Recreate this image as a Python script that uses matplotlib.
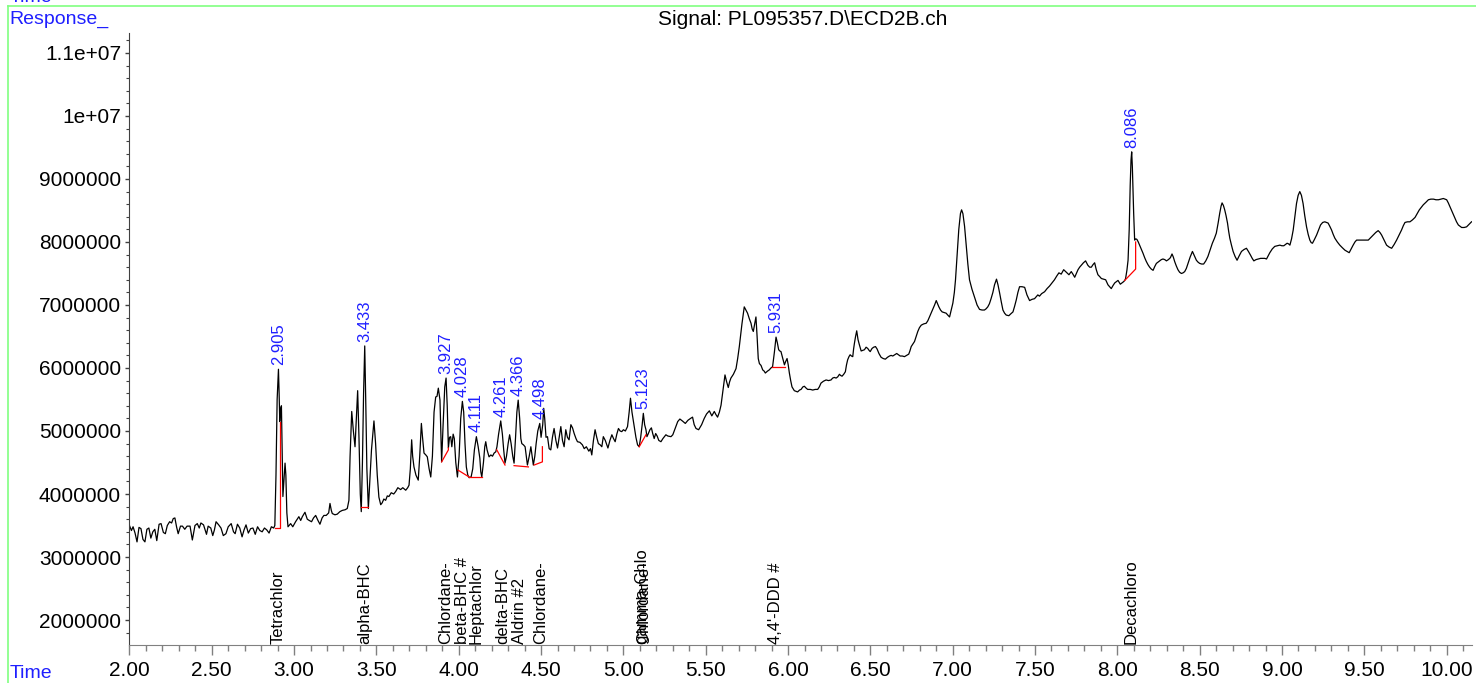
import numpy as np
import matplotlib
matplotlib.use("Agg")
import matplotlib.pyplot as plt
from matplotlib.ticker import MultipleLocator, FixedLocator, FixedFormatter

plt.rcParams['font.family'] = ['Liberation Sans', 'DejaVu Sans']

# chromatogram trace (time in min, response in millions)
time_min = [
    2.000, 2.012, 2.022, 2.034, 2.046, 2.058, 2.070, 2.082, 2.094, 2.106, 2.118, 2.130, 2.142, 2.154,
    2.166, 2.180, 2.192, 2.206, 2.218, 2.230, 2.244, 2.256, 2.266, 2.276, 2.286, 2.296, 2.310, 2.322,
    2.336, 2.350, 2.368, 2.382, 2.398, 2.412, 2.424, 2.434, 2.450, 2.468, 2.478, 2.494, 2.506, 2.516,
    2.526, 2.542, 2.556, 2.570, 2.586, 2.600, 2.618, 2.632, 2.642, 2.656, 2.670, 2.684, 2.696, 2.708,
    2.722, 2.736, 2.750, 2.764, 2.778, 2.792, 2.806, 2.820, 2.834, 2.848, 2.862, 2.876,
    2.883, 2.890, 2.897, 2.905, 2.909, 2.913, 2.918, 2.923, 2.928, 2.932, 2.938, 2.945, 2.950, 2.956,
    2.963, 2.979, 2.992, 3.009, 3.029, 3.040, 3.050, 3.066, 3.080, 3.092, 3.106, 3.118, 3.131, 3.145,
    3.157, 3.170, 3.181, 3.195, 3.210, 3.218, 3.226, 3.232, 3.248, 3.262, 3.278, 3.293, 3.310, 3.323,
    3.333, 3.340, 3.350, 3.360, 3.370, 3.378, 3.386, 3.394, 3.402, 3.408, 3.415, 3.422, 3.429, 3.435,
    3.442, 3.451, 3.460, 3.470, 3.485, 3.495, 3.505, 3.515, 3.526, 3.535, 3.545, 3.556, 3.566, 3.576,
    3.590, 3.605, 3.617, 3.630, 3.647, 3.660, 3.678, 3.690, 3.698, 3.706, 3.714, 3.720, 3.728, 3.740,
    3.754, 3.763, 3.773, 3.780, 3.789, 3.800, 3.809, 3.820, 3.830, 3.840, 3.850, 3.860, 3.868, 3.876,
    3.886, 3.891, 3.896, 3.905, 3.915, 3.923, 3.930, 3.937, 3.944, 3.951, 3.958, 3.966, 3.973, 3.982,
    3.992, 4.002, 4.012, 4.022, 4.030, 4.038, 4.046, 4.055, 4.063, 4.075, 4.085, 4.095, 4.107, 4.118,
    4.128, 4.134, 4.140, 4.150, 4.158, 4.164, 4.172, 4.184, 4.195, 4.205, 4.215, 4.225, 4.232, 4.242,
    4.255, 4.265, 4.273, 4.281, 4.290, 4.300, 4.309, 4.318, 4.328, 4.336, 4.345, 4.353, 4.361, 4.370,
    4.377, 4.383, 4.393, 4.403, 4.410, 4.417, 4.428, 4.438, 4.446, 4.453, 4.462, 4.470, 4.480, 4.492,
    4.500, 4.510, 4.516, 4.522, 4.530, 4.539, 4.549, 4.559, 4.569, 4.579, 4.590, 4.600, 4.610, 4.620,
    4.630, 4.640, 4.650, 4.660, 4.670, 4.681, 4.691, 4.701, 4.712, 4.721, 4.736, 4.751, 4.762, 4.775,
    4.790, 4.800, 4.808, 4.818, 4.828, 4.838, 4.848, 4.859, 4.869, 4.878, 4.890, 4.906, 4.918, 4.930,
    4.940, 4.950, 4.960, 4.970, 4.980, 4.990, 5.000, 5.012, 5.025, 5.035, 5.043, 5.052, 5.066, 5.076,
    5.086, 5.096, 5.105, 5.114, 5.121, 5.129, 5.137, 5.143, 5.150, 5.161, 5.170, 5.178, 5.187, 5.196,
    5.205, 5.215, 5.228, 5.240, 5.258, 5.270, 5.289, 5.300, 5.319, 5.330, 5.343, 5.358, 5.376, 5.392,
    5.408, 5.420, 5.430, 5.441, 5.457, 5.475, 5.491, 5.505, 5.522, 5.537, 5.552, 5.562, 5.572, 5.583,
    5.593, 5.605, 5.617, 5.627, 5.637, 5.645, 5.653, 5.668, 5.684, 5.694, 5.704, 5.720, 5.734, 5.744,
    5.754, 5.765, 5.775, 5.782, 5.789, 5.797, 5.805, 5.812, 5.819, 5.826, 5.836, 5.846, 5.855, 5.862,
    5.875, 5.886, 5.896, 5.906, 5.917, 5.927, 5.935, 5.943, 5.950, 5.957, 5.968, 5.978, 5.985, 5.994,
    6.001, 6.008, 6.016, 6.024, 6.038, 6.058, 6.070, 6.079, 6.090, 6.099, 6.110, 6.119, 6.135, 6.150,
    6.165, 6.180, 6.190, 6.200, 6.215, 6.231, 6.246, 6.261, 6.271, 6.281, 6.292, 6.302, 6.312, 6.320,
    6.328, 6.338, 6.348, 6.355, 6.362, 6.370, 6.377, 6.385, 6.393, 6.398, 6.403, 6.410, 6.417, 6.425,
    6.433, 6.444, 6.454, 6.464, 6.474, 6.484, 6.492, 6.499, 6.510, 6.520, 6.531, 6.541, 6.552, 6.565,
    6.578, 6.591, 6.604, 6.616, 6.626, 6.636, 6.648, 6.660, 6.670, 6.681, 6.694, 6.707, 6.720, 6.733,
    6.740, 6.748, 6.758, 6.768, 6.778, 6.788, 6.798, 6.809, 6.824, 6.839, 6.849, 6.859, 6.869, 6.879,
    6.890, 6.900, 6.908, 6.916, 6.926, 6.936, 6.948, 6.960, 6.970, 6.981, 6.991, 7.001, 7.010, 7.017,
    7.027, 7.037, 7.047, 7.054, 7.062, 7.072, 7.082, 7.092, 7.102, 7.117, 7.132, 7.148, 7.163, 7.178,
    7.193, 7.203, 7.213, 7.223, 7.233, 7.244, 7.254, 7.266, 7.275, 7.285, 7.295, 7.305, 7.315, 7.325,
    7.341, 7.353, 7.366, 7.376, 7.386, 7.396, 7.406, 7.421, 7.437, 7.451, 7.467, 7.482, 7.497, 7.507,
    7.517, 7.527, 7.540, 7.558, 7.573, 7.588, 7.603, 7.618, 7.632, 7.645, 7.659, 7.674, 7.690, 7.706,
    7.720, 7.730, 7.741, 7.751, 7.761, 7.771, 7.781, 7.794, 7.807, 7.821, 7.832, 7.842, 7.852, 7.862,
    7.872, 7.882, 7.893, 7.903, 7.916, 7.929, 7.936, 7.943, 7.953, 7.963, 7.974, 7.984, 7.994, 8.004,
    8.011, 8.018, 8.028, 8.038, 8.045, 8.050, 8.058, 8.065, 8.072, 8.078, 8.083, 8.087, 8.091, 8.095,
    8.099, 8.105, 8.112, 8.119, 8.127, 8.135, 8.146, 8.156, 8.166, 8.176, 8.186, 8.196, 8.206, 8.217,
    8.227, 8.237, 8.247, 8.257, 8.267, 8.277, 8.288, 8.298, 8.310, 8.322, 8.332, 8.340, 8.348, 8.358,
    8.368, 8.378, 8.389, 8.399, 8.409, 8.419, 8.429, 8.442, 8.456, 8.468, 8.480, 8.490, 8.500, 8.512,
    8.524, 8.537, 8.550, 8.563, 8.577, 8.590, 8.601, 8.612, 8.622, 8.630, 8.636, 8.644, 8.652, 8.660,
    8.669, 8.676, 8.683, 8.693, 8.703, 8.715, 8.727, 8.740, 8.754, 8.769, 8.784, 8.796, 8.809, 8.819,
    8.829, 8.842, 8.855, 8.870, 8.885, 8.895, 8.906, 8.916, 8.926, 8.941, 8.956, 8.972, 8.987, 8.999,
    9.011, 9.021, 9.031, 9.040, 9.048, 9.058, 9.068, 9.078, 9.088, 9.098, 9.108, 9.118, 9.128, 9.138,
    9.149, 9.159, 9.169, 9.177, 9.185, 9.197, 9.210, 9.222, 9.234, 9.247, 9.260, 9.270, 9.280, 9.290,
    9.301, 9.311, 9.321, 9.336, 9.351, 9.366, 9.382, 9.395, 9.408, 9.420, 9.432, 9.443, 9.453, 9.468,
    9.483, 9.503, 9.524, 9.539, 9.554, 9.569, 9.584, 9.595, 9.605, 9.620, 9.635, 9.650, 9.666, 9.681,
    9.696, 9.711, 9.726, 9.737, 9.747, 9.762, 9.777, 9.792, 9.808, 9.821, 9.834, 9.846, 9.858, 9.874,
    9.889, 9.904, 9.920, 9.935, 9.950, 9.965, 9.980, 9.990, 10.000, 10.010, 10.020, 10.035, 10.050, 10.060,
    10.071, 10.081, 10.091, 10.106, 10.121, 10.136, 10.151,
]
response_M = [
    3.50, 3.42, 3.48, 3.38, 3.24, 3.47, 3.45, 3.28, 3.24, 3.44, 3.46, 3.30, 3.40, 3.44,
    3.26, 3.52, 3.53, 3.39, 3.37, 3.50, 3.56, 3.54, 3.61, 3.62, 3.48, 3.37, 3.49, 3.49,
    3.44, 3.49, 3.49, 3.27, 3.50, 3.53, 3.46, 3.54, 3.51, 3.36, 3.49, 3.46, 3.34, 3.43,
    3.56, 3.51, 3.46, 3.34, 3.37, 3.48, 3.53, 3.40, 3.37, 3.52, 3.46, 3.32, 3.43, 3.51,
    3.38, 3.45, 3.46, 3.36, 3.48, 3.42, 3.40, 3.46, 3.43, 3.38, 3.48, 3.46,
    3.50, 4.30, 5.50, 5.98, 5.60, 5.15, 5.35, 5.40, 4.60, 3.96, 4.20, 4.49, 4.30, 3.70,
    3.48, 3.53, 3.48, 3.56, 3.64, 3.58, 3.64, 3.71, 3.60, 3.58, 3.56, 3.62, 3.66, 3.58,
    3.52, 3.62, 3.66, 3.66, 3.70, 3.85, 3.74, 3.69, 3.67, 3.68, 3.72, 3.74, 3.75, 3.77,
    3.90, 4.60, 5.31, 5.00, 4.75, 5.20, 5.64, 4.90, 4.00, 3.72, 4.50, 5.60, 6.35, 5.50,
    4.40, 3.77, 4.20, 4.70, 5.16, 4.80, 4.30, 3.95, 3.83, 3.86, 3.92, 3.90, 3.97, 3.96,
    4.02, 4.00, 4.04, 4.10, 4.07, 4.10, 4.06, 4.10, 4.14, 4.40, 4.86, 4.60, 4.43, 4.30,
    4.22, 4.60, 5.12, 4.90, 4.65, 4.62, 4.59, 4.40, 4.27, 4.60, 5.30, 5.54, 5.55, 5.68,
    5.49, 5.00, 4.51, 5.10, 5.70, 5.84, 5.40, 4.73, 4.90, 4.91, 4.75, 4.95, 4.88, 4.50,
    4.27, 4.60, 5.20, 5.47, 5.30, 4.80, 4.43, 4.30, 4.26, 4.27, 4.40, 4.70, 4.91, 4.75,
    4.57, 4.35, 4.27, 4.50, 4.75, 4.83, 4.70, 4.59, 4.62, 4.60, 4.65, 4.67, 4.75, 4.95,
    5.16, 4.95, 4.70, 4.49, 4.60, 4.80, 4.94, 4.80, 4.60, 4.49, 4.90, 5.30, 5.49, 5.20,
    4.88, 4.80, 4.78, 4.75, 4.60, 4.46, 4.60, 4.75, 4.60, 4.46, 4.60, 4.80, 5.00, 5.12,
    4.90, 5.10, 5.36, 5.20, 4.90, 4.91, 4.72, 4.70, 4.90, 5.04, 4.85, 4.73, 4.90, 5.07,
    4.85, 4.75, 5.02, 4.90, 4.86, 5.10, 5.05, 4.96, 4.88, 4.83, 4.82, 4.78, 4.72, 4.75,
    4.68, 4.72, 4.62, 4.85, 5.02, 4.90, 4.80, 4.78, 4.75, 4.91, 4.85, 4.73, 4.85, 4.94,
    4.88, 4.83, 4.95, 5.04, 5.00, 4.99, 5.02, 5.00, 5.07, 5.30, 5.52, 5.30, 5.07, 4.90,
    4.78, 4.75, 4.90, 5.10, 5.28, 5.10, 5.02, 4.91, 4.95, 5.02, 5.05, 4.96, 4.88, 4.96,
    4.92, 4.85, 4.83, 4.88, 4.94, 4.92, 4.91, 4.94, 5.07, 5.15, 5.19, 5.16, 5.12, 5.17,
    5.20, 5.22, 5.10, 5.04, 5.02, 5.10, 5.20, 5.27, 5.32, 5.24, 5.31, 5.26, 5.22, 5.30,
    5.41, 5.65, 5.89, 5.78, 5.69, 5.78, 5.84, 5.90, 5.99, 6.15, 6.34, 6.70, 6.97, 6.92,
    6.87, 6.78, 6.71, 6.62, 6.58, 6.70, 6.81, 6.50, 6.15, 6.07, 6.04, 5.97, 5.95, 5.92,
    5.95, 5.97, 6.00, 6.02, 6.25, 6.49, 6.40, 6.29, 6.27, 6.26, 6.15, 6.05, 6.10, 6.15,
    6.05, 5.92, 5.80, 5.70, 5.64, 5.62, 5.65, 5.66, 5.70, 5.71, 5.68, 5.66, 5.66, 5.65,
    5.66, 5.66, 5.70, 5.76, 5.79, 5.81, 5.80, 5.81, 5.84, 5.85, 5.84, 5.86, 5.90, 5.88,
    5.87, 5.90, 5.94, 6.05, 6.13, 6.18, 6.21, 6.19, 6.18, 6.30, 6.39, 6.50, 6.59, 6.45,
    6.37, 6.27, 6.28, 6.29, 6.33, 6.31, 6.28, 6.26, 6.31, 6.33, 6.34, 6.30, 6.23, 6.17,
    6.15, 6.14, 6.17, 6.19, 6.20, 6.19, 6.21, 6.23, 6.21, 6.19, 6.19, 6.18, 6.20, 6.22,
    6.27, 6.34, 6.38, 6.42, 6.50, 6.58, 6.64, 6.68, 6.70, 6.71, 6.75, 6.81, 6.87, 6.93,
    7.00, 7.07, 7.02, 6.97, 6.92, 6.89, 6.88, 6.87, 6.84, 6.81, 6.92, 7.03, 7.20, 7.40,
    7.80, 8.20, 8.45, 8.51, 8.45, 8.25, 7.95, 7.65, 7.40, 7.25, 7.13, 7.00, 6.93, 6.92,
    6.92, 6.94, 6.97, 7.02, 7.10, 7.20, 7.32, 7.41, 7.32, 7.19, 7.05, 6.92, 6.87, 6.84,
    6.83, 6.86, 6.89, 6.98, 7.08, 7.20, 7.29, 7.29, 7.28, 7.16, 7.07, 7.09, 7.10, 7.13,
    7.16, 7.14, 7.18, 7.21, 7.26, 7.30, 7.35, 7.40, 7.46, 7.51, 7.49, 7.56, 7.52, 7.48,
    7.53, 7.49, 7.44, 7.50, 7.56, 7.60, 7.63, 7.67, 7.70, 7.63, 7.60, 7.60, 7.64, 7.67,
    7.56, 7.48, 7.45, 7.42, 7.41, 7.40, 7.36, 7.32, 7.29, 7.26, 7.31, 7.35, 7.37, 7.39,
    7.36, 7.33, 7.35, 7.37, 7.39, 7.42, 7.55, 7.71, 8.20, 8.90, 9.30, 9.43, 9.20, 8.80,
    8.46, 8.03, 8.05, 8.04, 8.00, 7.95, 7.88, 7.82, 7.75, 7.69, 7.64, 7.60, 7.57, 7.55,
    7.61, 7.66, 7.68, 7.70, 7.72, 7.73, 7.72, 7.70, 7.72, 7.75, 7.81, 7.76, 7.69, 7.62,
    7.56, 7.52, 7.50, 7.51, 7.53, 7.58, 7.66, 7.76, 7.85, 7.78, 7.71, 7.68, 7.66, 7.65,
    7.65, 7.70, 7.77, 7.87, 7.98, 8.06, 8.14, 8.30, 8.46, 8.57, 8.62, 8.58, 8.51, 8.42,
    8.30, 8.17, 8.06, 7.95, 7.85, 7.77, 7.71, 7.78, 7.85, 7.88, 7.90, 7.85, 7.79, 7.74,
    7.70, 7.72, 7.73, 7.74, 7.74, 7.74, 7.73, 7.78, 7.83, 7.89, 7.93, 7.94, 7.95, 7.94,
    7.94, 7.96, 7.98, 7.97, 7.95, 8.05, 8.19, 8.40, 8.61, 8.74, 8.80, 8.74, 8.61, 8.42,
    8.24, 8.12, 8.03, 7.99, 7.98, 8.04, 8.11, 8.19, 8.27, 8.31, 8.32, 8.31, 8.30, 8.25,
    8.19, 8.12, 8.06, 8.00, 7.95, 7.91, 7.87, 7.85, 7.83, 7.89, 7.95, 8.00, 8.03, 8.03,
    8.03, 8.03, 8.03, 8.07, 8.11, 8.15, 8.18, 8.15, 8.11, 8.03, 7.95, 7.92, 7.90, 7.96,
    8.03, 8.11, 8.19, 8.26, 8.31, 8.32, 8.32, 8.35, 8.39, 8.45, 8.51, 8.55, 8.59, 8.63,
    8.67, 8.68, 8.68, 8.67, 8.67, 8.68, 8.69, 8.68, 8.67, 8.62, 8.56, 8.47, 8.38, 8.32,
    8.27, 8.25, 8.23, 8.23, 8.24, 8.28, 8.32,
]

# integrated peaks: retention time label and apex height (millions)
peak_rt = ["2.905", "3.433", "3.927", "4.028", "4.111", "4.261", "4.366", "4.498", "5.123", "5.931", "8.086"]
peak_x = [2.905, 3.429, 3.923, 4.022, 4.107, 4.255, 4.361, 4.492, 5.121, 5.927, 8.087]
peak_top = [5.98, 6.35, 5.84, 5.47, 4.91, 5.16, 5.49, 5.12, 5.28, 6.49, 9.43]

# red integration baselines (time list, response list)
base_t = [
    [2.883, 2.913, 2.913], [3.408, 3.451], [3.896, 3.937, 3.937], [3.995, 4.063],
    [4.063, 4.144], [4.231, 4.281], [4.336, 4.423], [4.458, 4.508, 4.508],
    [5.096, 5.137], [5.903, 5.984], [8.045, 8.111, 8.111],
]
base_r = [
    [3.46, 3.46, 5.15], [3.80, 3.80], [4.51, 4.70, 4.73], [4.38, 4.27],
    [4.27, 4.27], [4.70, 4.46], [4.45, 4.43], [4.46, 4.51, 4.75],
    [4.75, 4.94], [6.01, 6.01], [7.39, 7.57, 8.00],
]

# compound names along the time axis
compound_names = ["Tetrachlor", "alpha-BHC", "Chlordane-", "beta-BHC #", "Heptachlor", "delta-BHC",
                  "Aldrin #2", "Chlordane-", "gamma-Chlo", "Chlordane-", "4,4'-DDD #", "Decachloro"]
compound_rt = [2.900, 3.430, 3.922, 4.022, 4.107, 4.270, 4.371, 4.498, 5.112, 5.124, 5.925, 8.085]

y_ticks = [2e6, 3e6, 4e6, 5e6, 6e6, 7e6, 8e6, 9e6, 1e7, 1.1e7]
y_tick_labels = ["2000000", "3000000", "4000000", "5000000", "6000000", "7000000",
                 "8000000", "9000000", "1e+07", "1.1e+07"]

blue = "#1f1fff"

fig = plt.figure(figsize=(14.76, 6.83), dpi=100)
ax = fig.add_axes([0.0877, 0.0556, 0.9096, 0.8961])

resp = np.array(response_M) * 1e6
ax.plot(time_min, resp, color="black", lw=0.9)

for bt, br in zip(base_t, base_r):
    ax.plot(bt, np.array(br) * 1e6, color="red", lw=0.9)

for lab, x, top in zip(peak_rt, peak_x, peak_top):
    ax.annotate(lab, (x, top * 1e6), xytext=(0, 3), textcoords="offset points",
                rotation=90, ha="center", va="bottom", color=blue, fontsize=12)

for name, x in zip(compound_names, compound_rt):
    ax.annotate(name, (x, 0), xycoords=("data", "axes fraction"), xytext=(0, 1),
                textcoords="offset points", rotation=90, ha="center", va="bottom",
                color="black", fontsize=12)

ax.set_xlim(2.0, 10.154)
ax.set_ylim(1.603e6, 11.317e6)

ax.xaxis.set_major_locator(MultipleLocator(0.5))
ax.xaxis.set_minor_locator(MultipleLocator(0.1))
ax.xaxis.set_major_formatter(matplotlib.ticker.FormatStrFormatter("%.2f"))
ax.yaxis.set_major_locator(FixedLocator(y_ticks))
ax.yaxis.set_major_formatter(FixedFormatter(y_tick_labels))
ax.yaxis.set_minor_locator(MultipleLocator(2e5))

ax.spines["top"].set_visible(False)
ax.spines["right"].set_visible(False)
ax.spines["bottom"].set_color("#808080")
ax.spines["left"].set_color("#404040")
ax.tick_params(axis="x", which="major", direction="out", length=7.5, width=1, color="#808080",
               labelsize=15, pad=4)
ax.tick_params(axis="x", which="minor", direction="out", length=4, width=1, color="#808080")
ax.tick_params(axis="y", which="major", direction="out", length=3, width=1, color="#404040",
               labelsize=15, pad=3)
ax.tick_params(axis="y", which="minor", direction="out", length=2, width=0.8, color="#404040")

fig.text(0.5437, 0.971, "Signal: PL095357.D\\ECD2B.ch", ha="center", va="center", fontsize=15)
fig.text(0.0065, 0.972, "Response_", ha="left", va="center", fontsize=14, color=blue)
fig.text(0.0065, 0.0146, "Time", ha="left", va="center", fontsize=14, color=blue)
fig.text(0.0065, 0.9965, "Time", ha="left", va="baseline", fontsize=14, color=blue)

# green frame lines of the report page
fig.add_artist(plt.Line2D([0.0056, 1.0], [0.9917, 0.9917], color="#80ff80", lw=1.2))
fig.add_artist(plt.Line2D([0.0056, 0.0056], [0.0, 0.9917], color="#80ff80", lw=1.2))

fig.savefig("out.png", dpi=100)
